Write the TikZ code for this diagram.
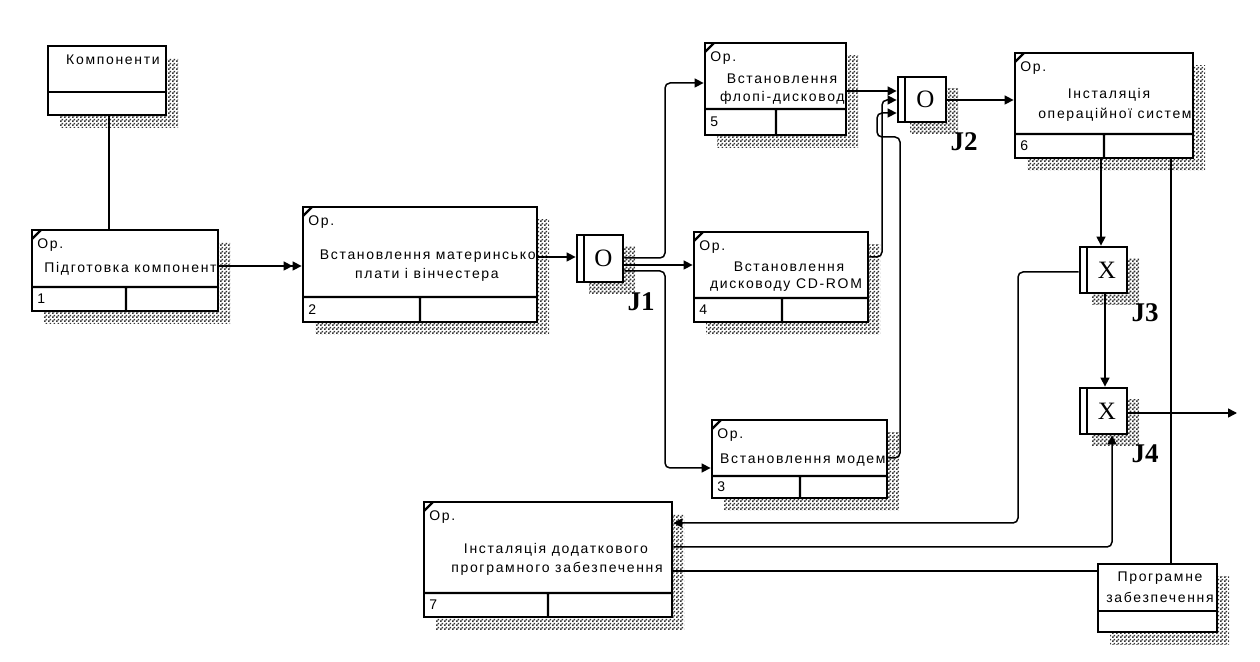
\documentclass[tikz,border=0pt]{standalone}
\usepackage{fontspec}
\newfontfamily\idef{Liberation Sans}[LetterSpace=12]
\newfontfamily\jser{Liberation Serif}
\usetikzlibrary{arrows.meta,patterns}
\pgfdeclarepatternformonly{dither}{\pgfqpoint{0pt}{0pt}}{\pgfqpoint{2pt}{2pt}}{\pgfqpoint{2pt}{2pt}}%
  {\pgfpathrectangle{\pgfqpoint{0pt}{0pt}}{\pgfqpoint{1pt}{1pt}}%
   \pgfpathrectangle{\pgfqpoint{1pt}{1pt}}{\pgfqpoint{1pt}{1pt}}\pgfusepath{fill}}
\tikzset{
  boxnode/.style={draw,line width=1.4pt,fill=white,inner sep=0pt},
  divline/.style={line width=1.2pt},
  txt/.style={font=\idef\fontsize{7}{8}\selectfont,inner sep=0pt},
  jletter/.style={font=\jser\fontsize{12.5}{13}\selectfont,inner sep=0pt},
  jname/.style={font=\jser\bfseries\fontsize{13.5}{14}\selectfont,inner sep=0pt},
  conn/.style={line width=0.75pt},
  arr/.style={conn,-{Triangle[length=4.5pt,width=4.5pt]}},
  dblarr/.style={conn,-{Triangle[length=4.5pt,width=4.5pt] Triangle[length=4.5pt,width=4.5pt]}},
  elbow/.style={rounded corners=2.5pt}
}
% activity box: name, x1, y1, x2, y2, divider, split, number
\newcommand\actbox[8]{%
  \fill[pattern=dither,pattern color=black!80] (#2+12,#3+13) rectangle (#4+12,#5+13);
  \node[boxnode,minimum width={(#4-#2)*0.5pt},minimum height={(#5-#3)*0.5pt}] (#1) at ({(#2+#4)/2},{(#3+#5)/2}) {};
  \draw[divline] (#2,#6) -- (#4,#6) (#7,#6) -- (#7,#5) (#2,#3+9) -- (#2+9,#3);
  \node[txt,anchor=west] (#1op) at (#2+5,#3+15) {Ор.};
  \node[txt,anchor=west] (#1no) at (#2+5,{(#6+#5)/2}) {#8};}
% object box: name, x1, y1, x2, y2, divider
\newcommand\objbox[6]{%
  \fill[pattern=dither,pattern color=black!80] (#2+12,#3+13) rectangle (#4+12,#5+13);
  \node[boxnode,minimum width={(#4-#2)*0.5pt},minimum height={(#5-#3)*0.5pt}] (#1) at ({(#2+#4)/2},{(#3+#5)/2}) {};
  \draw[divline] (#2,#6) -- (#4,#6);}
% junction: name, x1, y1, x2, y2, letter, label
\newcommand\jbox[7]{%
  \fill[pattern=dither,pattern color=black!80] (#2+12,#3+12) rectangle (#4+12,#5+12);
  \node[boxnode,minimum width={(#4-#2)*0.5pt},minimum height={(#5-#3)*0.5pt}] (#1) at ({(#2+#4)/2},{(#3+#5)/2}) {};
  \draw[divline] (#2+7,#3) -- (#2+7,#5);
  \node[jletter] (#1l) at ({(#2+7+#4)/2},{(#3+#5)/2}) {#6};
  \node[jname] (#1n) at (#4+18,#5+20) {#7};}

\begin{document}
\begin{tikzpicture}[x=0.5pt,y=-0.5pt,line cap=butt,line join=miter]
  \fill[white] (0,0) rectangle (1260,662);
  \useasboundingbox (0,0) rectangle (1260,662);

  \objbox{comp}{48}{46}{166}{115}{92}
  \node[txt] (compt) at (113,60) {Компоненти};
  \objbox{sw}{1098}{564}{1217}{632}{611}
  \node[txt] (swa) at (1160,578) {Програмне};
  \node[txt] (swb) at (1160,597) {забезпечення};

  \actbox{b1}{32}{230}{218}{311}{287}{126}{1}
  \node[txt,anchor=east] (b1a) at (217,269) {Підготовка компонент};
  \actbox{b2}{303}{207}{537}{322}{297}{420}{2}
  \node[txt,anchor=east] (b2a) at (536,256) {Встановлення материнсько};
  \node[txt] (b2b) at (427,275) {плати і вінчестера};
  \actbox{b5}{705}{43}{846}{135}{109}{776}{5}
  \node[txt] (b5a) at (782,79) {Встановлення};
  \node[txt,anchor=east] (b5b) at (845,98) {флопі-дисковод};
  \actbox{b4}{694}{232}{868}{322}{298}{782}{4}
  \node[txt] (b4a) at (789,267) {Встановлення};
  \node[txt] (b4b) at (786,285) {дисководу CD-ROM};
  \actbox{b3}{712}{420}{887}{498}{476}{800}{3}
  \node[txt,anchor=east] (b3a) at (886,460) {Встановлення модем};
  \actbox{b6}{1015}{53}{1193}{158}{134}{1104}{6}
  \node[txt] (b6a) at (1109,95) {Інсталяція};
  \node[txt,anchor=east] (b6b) at (1192,115) {операційної систем};
  \actbox{b7}{424}{502}{672}{617}{593}{548}{7}
  \node[txt] (b7a) at (556,550) {Інсталяція додаткового};
  \node[txt] (b7b) at (557,569) {програмного забезпечення};

  \jbox{j1}{577}{235}{623}{282}{O}{J1}
  \jbox{j2}{898}{77}{946}{122}{O}{J2}
  \jbox{j3}{1080}{247}{1127}{293}{X}{J3}
  \jbox{j4}{1080}{388}{1127}{434}{X}{J4}

  % links
  \draw[conn] (comp.south -| 109,0) -- (b1.north -| 109,0);
  \draw[dblarr] (b1.east |- 0,266) -- (b2.west |- 0,266);
  \draw[arr] (b2.east |- 0,257) -- (j1.west |- 0,257);
  \draw[arr,elbow] (j1.east |- 0,258) -- (665,258) -- (665,83) -- (b5.west |- 0,83);
  \draw[arr] (j1.east |- 0,265) -- (b4.west |- 0,265);
  \draw[arr,elbow] (j1.east |- 0,271) -- (665,271) -- (665,468) -- (b3.west |- 0,468);
  \draw[arr] (b5.east |- 0,91) -- (j2.west |- 0,91);
  \draw[arr,elbow] (b4.east |- 0,257) -- (882,257) -- (882,100) -- (j2.west |- 0,100);
  \draw[arr,elbow] (b3.east |- 0,458) -- (900,458) -- (900,137) -- (877,137) -- (877,113) -- (j2.west |- 0,113);
  \draw[arr] (j2.east |- 0,100) -- (b6.west |- 0,100);
  \draw[arr] (b6.south -| 1101,0) -- (j3.north -| 1101,0);
  \draw[conn] (b6.south -| 1171,0) -- (sw.north -| 1171,0);
  \draw[arr] (j3.south -| 1105,0) -- (j4.north -| 1105,0);
  \coordinate (out) at (1237,413);
  \draw[arr] (j4.east |- 0,413) -- (out);
  \draw[arr,elbow] (j3.west |- 0,272) -- (1018,272) -- (1018,523) -- (b7.east |- 0,523);
  \draw[arr,elbow] (b7.east |- 0,547) -- (1112,547) -- (j4.south -| 1112,0);
  \draw[conn] (b7.east |- 0,571) -- (sw.west |- 0,571);
\end{tikzpicture}
\end{document}
